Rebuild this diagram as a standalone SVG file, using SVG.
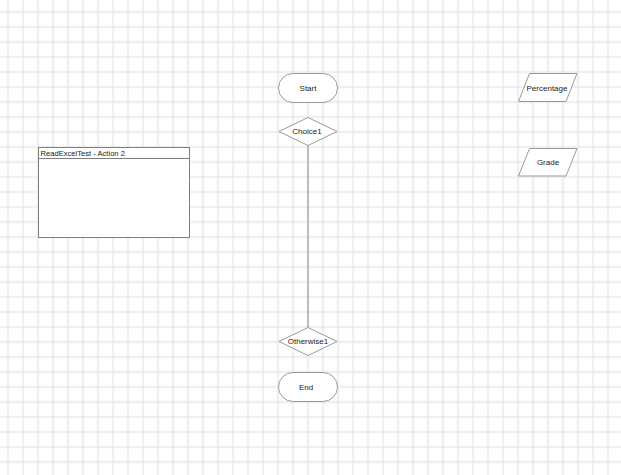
<svg xmlns="http://www.w3.org/2000/svg" width="621" height="475" viewBox="0 0 621 475">
  <defs>
    <pattern id="grid" patternUnits="userSpaceOnUse" x="0.5" y="4.5" width="15" height="15">
      <path d="M7.5 0V15M0 7.5H15" stroke="#e6e6e6" stroke-width="1.5" fill="none"/>
    </pattern>
    <style>
      .shape { fill: #ffffff; stroke: #9a9a9a; stroke-width: 1; }
      .box { fill: #ffffff; stroke: #7f7f7f; stroke-width: 1; }
      .lbl { font-family: "Liberation Sans", Arial, sans-serif; font-size: 8px; fill: #222222; text-anchor: middle; dominant-baseline: central; }
      .hdr { font-family: "Liberation Sans", Arial, sans-serif; font-size: 7.6px; fill: #222222; }
      .conn { stroke: #8a8a8a; stroke-width: 1; fill: none; }
    </style>
  </defs>
  <rect width="621" height="475" fill="#ffffff"/>
  <rect width="621" height="475" fill="url(#grid)"/>

  <g id="connectors">
    <line class="conn" x1="308" y1="145.5" x2="308" y2="327.5"/>
  </g>

  <g id="start">
    <rect class="shape" x="278.5" y="73.5" width="59" height="29" rx="14.5" ry="14.5"/>
    <text class="lbl" x="308" y="88">Start</text>
  </g>

  <g id="choice1">
    <polygon class="shape" points="308,117.5 337,131.5 308,145.5 279,131.5"/>
    <text class="lbl" x="307" y="131.5">Choice1</text>
  </g>

  <g id="otherwise1">
    <polygon class="shape" points="308,327.5 337,341.5 308,355.5 279,341.5"/>
    <text class="lbl" x="308" y="341.5">Otherwise1</text>
  </g>

  <g id="end">
    <rect class="shape" x="278.5" y="372.5" width="59" height="29" rx="14.5" ry="14.5"/>
    <text class="lbl" x="306" y="387">End</text>
  </g>

  <g id="percentage">
    <polygon class="shape" points="529.5,73.5 577,73.5 566,101.5 518.5,101.5"/>
    <text class="lbl" x="547" y="88">Percentage</text>
  </g>

  <g id="grade">
    <polygon class="shape" points="529.5,148.5 577,148.5 566,176 518.5,176"/>
    <text class="lbl" x="548" y="162">Grade</text>
  </g>

  <g id="readexceltest">
    <rect class="box" x="38.5" y="147.5" width="151" height="90"/>
    <line class="box" x1="38.5" y1="158.5" x2="189.5" y2="158.5"/>
    <text class="hdr" x="40.5" y="156">ReadExcelTest - Action 2</text>
  </g>
</svg>
